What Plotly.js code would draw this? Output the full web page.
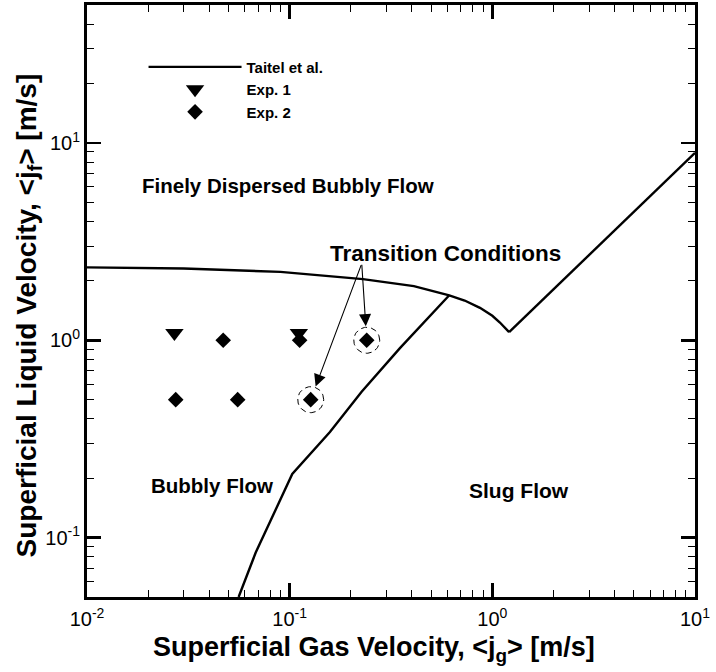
<!DOCTYPE html>
<html>
<head>
<meta charset="utf-8">
<script src="https://cdn.plot.ly/plotly-3.0.1.min.js"></script>
<style>
  html, body { margin: 0; padding: 0; background: #fff; }
  #chart { width: 716px; height: 672px; }
</style>
</head>
<body>
<div id="chart"></div>
<script>
// Taitel et al. flow-regime boundaries (superficial gas / liquid velocity, m/s)
const dispersedX = [0.01, 0.03, 0.09, 0.23, 0.41, 0.613, 0.73, 0.869, 1.0, 1.09, 1.21];
const dispersedY = [2.34, 2.31, 2.22, 2.04, 1.88, 1.69, 1.59, 1.46, 1.33, 1.23, 1.10];
const bubblySlugX = [0.056, 0.068, 0.103, 0.158, 0.2265, 0.35, 0.613];
const bubblySlugY = [0.05, 0.084, 0.21, 0.343, 0.548, 0.912, 1.69];
const dispersedSlugX = [1.21, 10];
const dispersedSlugY = [1.10, 8.9];

// Experimental conditions
const exp1X = [0.027, 0.111];
const exp1Y = [1.09, 1.09];
const exp2X = [0.047, 0.112, 0.24, 0.0274, 0.0554, 0.127];
const exp2Y = [1.0, 1.0, 1.0, 0.5, 0.5, 0.5];
// indices into Exp. 2 that sit on the bubbly/slug transition
const transitionIdx = [2, 5];

const tickVals = [0.01, 0.1, 1, 10];
const tickText = ['10<sup>-2</sup>', '10<sup>-1</sup>', '10<sup>0</sup>', '10<sup>1</sup>'];
const yTickVals = [0.1, 1, 10];
const yTickText = ['10<sup>-1</sup>', '10<sup>0</sup>', '10<sup>1</sup>'];

const FONT = 'Liberation Sans, Arial, Helvetica, sans-serif';

const W = 716, H = 672;
const M = { l: 87, r: 21, t: 5, b: 75 };
const X_RANGE = [-2, 1];
const Y_RANGE = [Math.log10(0.05), Math.log10(50)];

function minorTicks(lo, hi) {
  const out = [];
  for (let e = lo; e <= hi; e++) {
    for (let m = 2; m <= 9; m++) out.push(m * Math.pow(10, e));
  }
  return out;
}

// dashed ring of a fixed pixel radius around a point on the log-log axes
function ring(cx, cy, rPx) {
  const pxPerDecX = (W - M.l - M.r) / (X_RANGE[1] - X_RANGE[0]);
  const pxPerDecY = (H - M.t - M.b) / (Y_RANGE[1] - Y_RANGE[0]);
  const xs = [], ys = [];
  for (let k = 0; k <= 72; k++) {
    const t = 2 * Math.PI * k / 72;
    xs.push(cx * Math.pow(10, rPx * Math.cos(t) / pxPerDecX));
    ys.push(cy * Math.pow(10, rPx * Math.sin(t) / pxPerDecY));
  }
  return { x: xs, y: ys, mode: 'lines', showlegend: false, hoverinfo: 'skip',
           line: { color: '#000', width: 1, dash: '6px,4px' } };
}

const lineStyle = { color: '#000', width: 2.4 };

const traces = [
  { x: dispersedX, y: dispersedY, mode: 'lines', name: 'Taitel et al.', line: lineStyle,
    legendgroup: 't', showlegend: true },
  { x: bubblySlugX, y: bubblySlugY, mode: 'lines', name: 'Taitel et al.', line: lineStyle,
    legendgroup: 't', showlegend: false },
  { x: dispersedSlugX, y: dispersedSlugY, mode: 'lines', name: 'Taitel et al.', line: lineStyle,
    legendgroup: 't', showlegend: false },
  { x: exp1X, y: exp1Y, mode: 'markers', name: 'Exp. 1',
    marker: { symbol: 'triangle-down', size: 16, color: '#000' } },
  { x: exp2X, y: exp2Y, mode: 'markers', name: 'Exp. 2',
    marker: { symbol: 'diamond', size: 12, color: '#000' } }
].concat(transitionIdx.map(i => ring(exp2X[i], exp2Y[i], 13)));

const axisCommon = {
  type: 'log',
  showline: true, linewidth: 3, linecolor: '#000', mirror: 'allticks',
  ticks: 'inside', ticklen: 14, tickwidth: 2.5, tickcolor: '#000',
  showgrid: false, zeroline: false,
  tickfont: { family: FONT, size: 20, color: '#000' },
  tickmode: 'array'
};

// arrow tails, in pixels from each ringed point
const arrowTails = { 2: [-5, -77], 5: [51, -136] };
const arrows = transitionIdx.map(i => ({
  xref: 'x', yref: 'y', x: Math.log10(exp2X[i]), y: Math.log10(exp2Y[i]),
  text: '', showarrow: true, axref: 'pixel', ayref: 'pixel',
  ax: arrowTails[i][0], ay: arrowTails[i][1],
  arrowhead: 2, arrowsize: 2.2, arrowwidth: 1.1, arrowcolor: '#000', standoff: 14
}));

const labelFont = { family: FONT, size: 20.5, color: '#000', weight: 'bold' };
const labels = [
  { text: 'Finely Dispersed Bubbly Flow', x: 0.331, y: 0.695 },
  { text: 'Transition Conditions', x: 0.590, y: 0.580, font: Object.assign({}, labelFont, { size: 22.5 }) },
  { text: 'Bubbly Flow', x: 0.206, y: 0.189 },
  { text: 'Slug Flow', x: 0.711, y: 0.180, font: Object.assign({}, labelFont, { size: 21 }) }
].map(a => Object.assign({ xref: 'paper', yref: 'paper', showarrow: false,
  xanchor: 'center', yanchor: 'middle', font: labelFont }, a));

// axis titles
const titleFont = { family: FONT, size: 27, color: '#000', weight: 'bold' };
const titles = [
  { text: 'Superficial Gas Velocity, &lt;j<sub>g</sub>&gt; [m/s]', x: 0.472, y: -0.087 },
  { text: 'Superficial Liquid Velocity, &lt;j<sub>f</sub>&gt; [m/s]', x: -0.096, y: 0.475, textangle: -90,
    font: Object.assign({}, titleFont, { size: 28 }) }
].map(a => Object.assign({ xref: 'paper', yref: 'paper', showarrow: false,
  xanchor: 'center', yanchor: 'middle', font: titleFont }, a));

const layout = {
  width: W, height: H,
  margin: M,
  paper_bgcolor: '#fff', plot_bgcolor: '#fff',
  font: { family: FONT, color: '#000' },
  showlegend: true,
  legend: {
    x: 0.093, y: 0.923, xanchor: 'left', yanchor: 'top',
    bgcolor: 'rgba(0,0,0,0)', borderwidth: 0,
    font: { family: FONT, size: 15, color: '#000', weight: 'bold' },
    itemwidth: 93, tracegroupgap: 0
  },
  xaxis: Object.assign({}, axisCommon, {
    range: X_RANGE,
    tickvals: tickVals, ticktext: tickText, ticklabelstandoff: 2,
    minor: { ticks: 'inside', ticklen: 7, tickwidth: 1, tickcolor: '#000',
             tickmode: 'array', tickvals: minorTicks(-2, 0), showgrid: false }
  }),
  yaxis: Object.assign({}, axisCommon, {
    range: Y_RANGE,
    tickvals: yTickVals, ticktext: yTickText,
    minor: { ticks: 'inside', ticklen: 7, tickwidth: 1, tickcolor: '#000',
             tickmode: 'array', tickvals: minorTicks(-2, 1), showgrid: false }
  }),
  annotations: labels.concat(titles, arrows)
};

Plotly.newPlot('chart', traces, layout, { displayModeBar: false, staticPlot: true });
</script>
</body>
</html>
